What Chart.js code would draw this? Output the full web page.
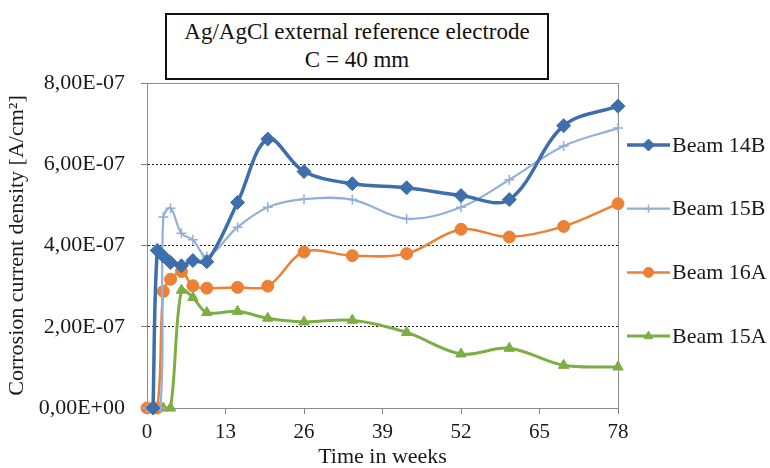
<!DOCTYPE html>
<html>
<head>
<meta charset="utf-8">
<script src="https://cdn.jsdelivr.net/npm/chart.js@4"></script>
<style>
  body { margin: 0; background: #fff; }
  #wrap { position: relative; width: 770px; height: 468px; }
  #title {
    position: absolute; left: 165px; top: 13px; width: 380px; height: 60px;
    border: 2px solid #111; padding-top: 3px;
    font-family: "Liberation Serif", serif; font-size: 23px;
    line-height: 28px; text-align: center; color: #111; background: #fff;
  }
</style>
</head>
<body>
<div id="wrap">
  <canvas id="myChart" width="770" height="468"></canvas>
  <div id="title">Ag/AgCl external reference electrode<br>C = 40 mm</div>
</div>
<script>
// time in weeks and corrosion current density [A/cm2]
const weeks14B = [1, 1.7, 2.7, 3.9, 5.7, 7.6, 9.9, 15, 20, 26, 34, 43, 52, 60, 69, 78];
const beam14B = [0, 3.88e-7, 3.74e-7, 3.58e-7, 3.5e-7, 3.63e-7, 3.6e-7, 5.06e-7, 6.62e-7, 5.82e-7, 5.52e-7, 5.42e-7, 5.23e-7, 5.13e-7, 6.95e-7, 7.43e-7];

const weeks15B = [0, 2.2, 2.7, 3.9, 5.7, 7.6, 9.9, 15, 20, 26, 34, 43, 52, 60, 69, 78];
const beam15B = [0, 0, 4.7e-7, 4.92e-7, 4.3e-7, 4.14e-7, 3.73e-7, 4.45e-7, 4.94e-7, 5.14e-7, 5.13e-7, 4.66e-7, 4.94e-7, 5.62e-7, 6.45e-7, 6.89e-7];

const weeks16A = [0, 1.7, 2.7, 3.9, 5.7, 7.6, 9.9, 15, 20, 26, 34, 43, 52, 60, 69, 78];
const beam16A = [0, 0, 2.87e-7, 3.17e-7, 3.36e-7, 3.01e-7, 2.95e-7, 2.97e-7, 3.0e-7, 3.84e-7, 3.75e-7, 3.8e-7, 4.4e-7, 4.21e-7, 4.47e-7, 5.03e-7];

const weeks15A = [0, 1.7, 2.7, 3.9, 5.7, 7.6, 9.9, 15, 20, 26, 34, 43, 52, 60, 69, 78];
const beam15A = [0, 0, 0, 0, 2.9e-7, 2.72e-7, 2.35e-7, 2.38e-7, 2.21e-7, 2.12e-7, 2.16e-7, 1.86e-7, 1.33e-7, 1.47e-7, 1.05e-7, 1.01e-7];

const xTicks = [0, 13, 26, 39, 52, 65, 78];
const yTicks = [0, 2e-7, 4e-7, 6e-7, 8e-7];

function toPoints(xs, ys) {
    return xs.map((x, i) => ({ x: x, y: ys[i] }));
}

// 8e-7 -> "8,00E-07"
function sci(v) {
    const parts = v.toExponential(2).split('e');
    const n = parseInt(parts[1], 10);
    return parts[0].replace('.', ',') + 'E' + (n < 0 ? '-' : '+') + String(Math.abs(n)).padStart(2, '0');
}

const serif = '"Liberation Serif", serif';
Chart.defaults.font.family = serif;
Chart.defaults.color = '#1a1a1a';

// Excel style legend: line sample with marker
const sideLegend = {
    id: 'sideLegend',
    afterDraw(chart) {
        const ctx = chart.ctx;
        chart.data.datasets.forEach((ds, i) => {
            const y = 145 + i * 63.7;
            ctx.save();
            ctx.strokeStyle = ds.borderColor;
            ctx.lineWidth = ds.borderWidth;
            ctx.beginPath();
            ctx.moveTo(627, y);
            ctx.lineTo(670, y);
            ctx.stroke();
            ctx.fillStyle = ds.pointBackgroundColor;
            ctx.strokeStyle = ds.pointBorderColor;
            ctx.lineWidth = ds.pointBorderWidth;
            Chart.helpers.drawPoint(ctx, { pointStyle: ds.pointStyle, radius: ds.pointRadius - 1, borderWidth: ds.pointBorderWidth, rotation: 0 }, 648.5, y);
            ctx.fillStyle = '#1a1a1a';
            ctx.font = '22px ' + serif;
            ctx.textBaseline = 'middle';
            ctx.fillText(ds.label, 672, y + 1);
            ctx.restore();
        });
    }
};

// plot area frame (top and right edges are grey in the reference)
const plotFrame = {
    id: 'plotFrame',
    beforeDatasetsDraw(chart) {
        const a = chart.chartArea;
        const ctx = chart.ctx;
        ctx.save();
        ctx.strokeStyle = '#8c8c8c';
        ctx.lineWidth = 1;
        ctx.strokeRect(Math.round(a.left) + 0.5, Math.round(a.top) + 0.5, Math.round(a.right - a.left), Math.round(a.bottom - a.top));
        ctx.restore();
    }
};

function series(label, xs, ys, color, width, style, radius) {
    return {
        label: label,
        data: toPoints(xs, ys),
        borderColor: color,
        backgroundColor: color,
        borderWidth: width,
        pointStyle: style,
        pointRadius: radius,
        pointHoverRadius: radius,
        pointBackgroundColor: color,
        pointBorderColor: color,
        pointBorderWidth: style === 'cross' ? 1.5 : 1,
        tension: 0.35,
        clip: false
    };
}

function drawChart() {
    const ctx = document.getElementById('myChart').getContext('2d');
    new Chart(ctx, {
        type: 'line',
        data: {
            datasets: [
                series('Beam 14B', weeks14B, beam14B, '#3e6eab', 3.5, 'rectRot', 7),
                series('Beam 15B', weeks15B, beam15B, '#93b0d8', 2.2, 'cross', 5),
                series('Beam 16A', weeks16A, beam16A, '#ec8135', 2.5, 'circle', 6),
                series('Beam 15A', weeks15A, beam15A, '#7bae43', 3, 'triangle', 6)
            ]
        },
        options: {
            responsive: false,
            devicePixelRatio: 1,
            animation: false,
            layout: { padding: { top: 83, right: 152, left: 0, bottom: 0 } },
            plugins: {
                legend: { display: false },
                tooltip: { enabled: false }
            },
            scales: {
                x: {
                    type: 'linear',
                    min: xTicks[0],
                    max: xTicks[xTicks.length - 1],
                    afterFit: (scale) => { scale.height = 60; },
                    afterBuildTicks: (scale) => { scale.ticks = xTicks.map(v => ({ value: v })); },
                    ticks: { font: { size: 21, family: serif }, padding: 6, maxRotation: 0 },
                    grid: { drawOnChartArea: false, drawTicks: true, tickLength: 6, tickColor: '#808080' },
                    border: { color: '#808080', width: 1 },
                    title: { display: true, text: 'Time in weeks', font: { size: 22, lineHeight: 1, family: serif }, padding: 0 }
                },
                y: {
                    min: yTicks[0],
                    max: yTicks[yTicks.length - 1],
                    afterFit: (scale) => { scale.width = 147; },
                    afterBuildTicks: (scale) => { scale.ticks = yTicks.map(v => ({ value: v })); },
                    ticks: { font: { size: 22, family: serif }, padding: 16, callback: (v) => sci(v) },
                    grid: {
                        color: (c) => (c.index === 0 || c.index === yTicks.length - 1) ? 'rgba(0,0,0,0)' : '#222',
                        lineWidth: 1,
                        tickLength: 6,
                        tickColor: '#808080'
                    },
                    border: { color: '#808080', width: 1, dash: [2, 2] },
                    title: { display: true, text: 'Corrosion current density [A/cm²]', font: { size: 22, family: serif }, padding: { top: 4, bottom: 0 } }
                }
            }
        },
        plugins: [plotFrame, sideLegend]
    });
}

// make sure the serif face is ready before the canvas text is drawn
document.fonts.load('22px "Liberation Serif"').then(drawChart, drawChart);
</script>
</body>
</html>
